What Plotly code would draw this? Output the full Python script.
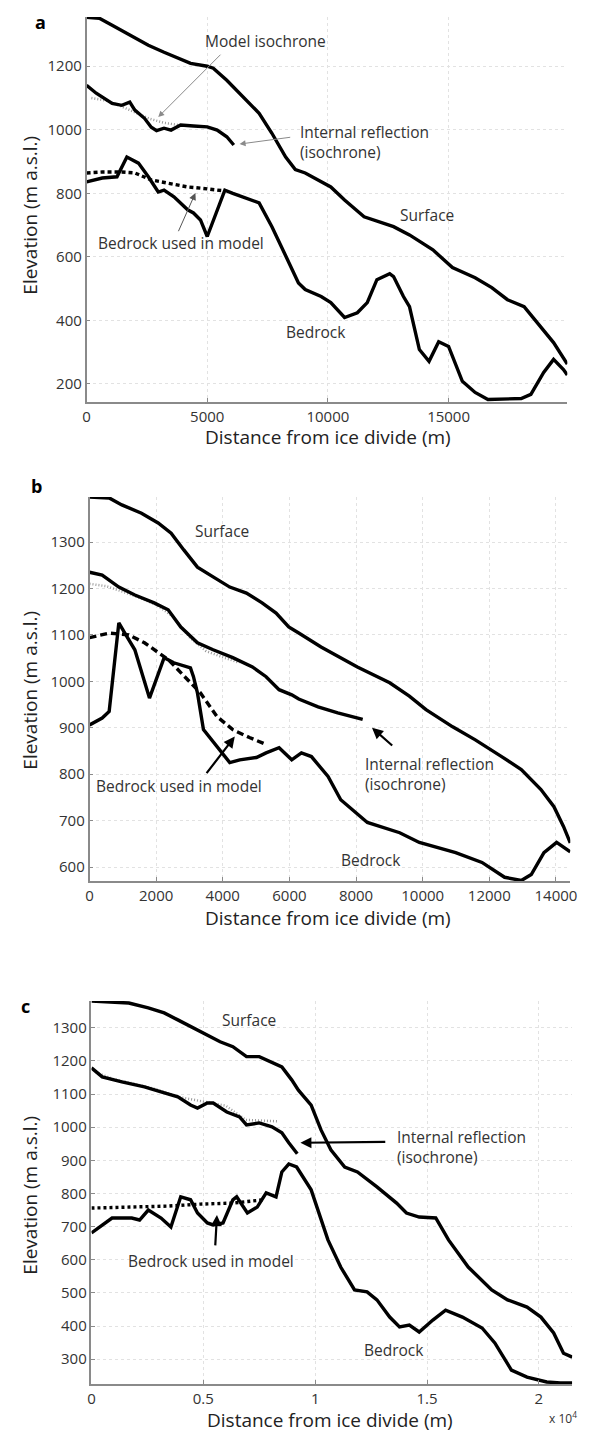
import plotly.graph_objects as go

W, H = 591, 1432
OFF = 8  # default page margin of the browser body
FW, FH = W - OFF, H - OFF
FONT = "Open Sans"

# ---------------- Panel a ----------------
a_surf_x = [0, 530, 1060, 1590, 2150, 2560, 3210, 3780, 4310, 5000, 5250, 5810, 6470, 7150, 7680, 8250, 8650,
            9060, 10120, 10690, 11500, 12720, 13380, 14350, 15160, 16100, 16790, 17440, 18130, 18820, 19350, 19920]
a_surf_y = [1354, 1351, 1329, 1307, 1282, 1266, 1244, 1225, 1209, 1200, 1194, 1156, 1103, 1052, 989, 914, 875,
            864, 820, 779, 726, 695, 669, 622, 566, 534, 503, 465, 443, 381, 330, 262]
a_bed_x = [0, 650, 1260, 1670, 2150, 2560, 2970, 3210, 3620, 4190, 4430, 4720, 5000, 5730, 6060, 6870, 7150, 7680,
           8250, 8780, 9060, 9720, 10120, 10690, 11220, 11630, 12030, 12560, 12720, 13130, 13380, 13790, 14190,
           14590, 15000, 15570, 16100, 16630, 18010, 18410, 18940, 19350, 19760, 19920]
a_bed_y = [836, 848, 852, 914, 895, 852, 804, 810, 789, 748, 738, 716, 664, 810, 800, 779, 770, 695,
           600, 518, 497, 475, 456, 409, 424, 456, 528, 547, 538, 475, 443, 308, 271,
           333, 318, 208, 173, 151, 154, 167, 236, 277, 245, 228]
a_iso_x = [0, 400, 1060, 1460, 1790, 2000, 2400, 2680, 2900, 3210, 3500, 3900, 4430, 5000, 5410, 5810, 6100]
a_iso_y = [1140, 1115, 1083, 1077, 1087, 1062, 1036, 1008, 997, 1005, 999, 1015, 1012, 1009, 999, 978, 952]
a_model_iso_x = [200, 800, 1400, 2000, 2600, 3200, 3800]
a_model_iso_y = [1100, 1092, 1075, 1055, 1035, 1022, 1015]
a_bed_model_x = [0, 650, 1460, 2000, 2680, 3370, 4190, 5000, 5650]
a_bed_model_y = [864, 867, 867, 864, 842, 833, 820, 814, 808]
a_xticks = [0, 5000, 10000, 15000]
a_xticklabels = ["0", "5000", "10000", "15000"]
a_yticks = [200, 400, 600, 800, 1000, 1200]

# ---------------- Panel b ----------------
b_surf_x = [0, 590, 970, 1560, 2060, 2450, 2830, 3240, 3710, 4210, 4710, 5180, 5600, 5980, 6280, 6950, 8040,
            9010, 9600, 10100, 10900, 11580, 12370, 12960, 13550, 13940, 14230, 14430]
b_surf_y = [1397, 1395, 1380, 1362, 1341, 1319, 1283, 1246, 1225, 1203, 1190, 1169, 1147, 1117, 1104, 1074, 1031,
            997, 968, 939, 902, 874, 838, 810, 767, 730, 687, 652]
b_iso_x = [0, 380, 880, 1360, 1940, 2360, 2740, 3240, 3710, 4300, 4890, 5300, 5690, 6070, 6280, 6860, 7450, 8200]
b_iso_y = [1235, 1229, 1203, 1186, 1169, 1154, 1117, 1083, 1068, 1051, 1031, 1010, 982, 971, 962, 945, 932, 918]
b_model_iso_x = [0, 500, 1000, 1500, 2000, 2500, 3000, 3500, 4000, 4500]
b_model_iso_y = [1210, 1205, 1193, 1180, 1165, 1140, 1095, 1065, 1052, 1040]
b_bed_x = [0, 380, 590, 880, 1060, 1360, 1800, 2240, 2530, 3030, 3120, 3240, 3420, 3830, 4210, 4510, 5010, 5300,
           5690, 6070, 6360, 6660, 7160, 7540, 8340, 9310, 9900, 10990, 11780, 12460, 12960, 13260, 13640,
           14020, 14430]
b_bed_y = [906, 921, 935, 1126, 1104, 1068, 964, 1051, 1040, 1029, 1010, 975, 896, 859, 825, 831, 836, 846,
           857, 831, 846, 838, 795, 745, 696, 674, 653, 631, 610, 578, 571, 584, 631,
           653, 633]
b_bed_model_x = [0, 590, 1180, 1650, 2360, 2950, 3330, 3830, 4300, 4800, 5300]
b_bed_model_y = [1094, 1104, 1100, 1083, 1047, 1003, 975, 924, 896, 879, 864]
b_xticks = [0, 2000, 4000, 6000, 8000, 10000, 12000, 14000]
b_xticklabels = ["0", "2000", "4000", "6000", "8000", "10000", "12000", "14000"]
b_yticks = [600, 700, 800, 900, 1000, 1100, 1200, 1300]

# ---------------- Panel c ----------------
c_surf_x = [0, 1670, 2540, 3250, 3860, 4560, 5180, 5750, 6320, 6930, 7500, 8070, 8510, 8950, 9250, 9820, 10260,
            10700, 11320, 11890, 12760, 13640, 14080, 14650, 15390, 15960, 16840, 17890, 18600, 19470, 20090,
            20660, 21100, 21490]
c_surf_y = [1381, 1375, 1360, 1345, 1324, 1300, 1279, 1258, 1243, 1213, 1213, 1197, 1182, 1143, 1112, 1067, 992,
            932, 880, 865, 820, 771, 741, 729, 726, 660, 578, 509, 479, 457, 427,
            379, 318, 306]
c_iso_x = [0, 480, 1360, 2370, 3110, 3860, 4430, 4740, 5180, 5440, 6050, 6620, 6930, 7500, 8070, 8510, 8820, 9200]
c_iso_y = [1179, 1152, 1137, 1122, 1107, 1092, 1067, 1058, 1073, 1073, 1046, 1031, 1007, 1013, 1001, 983, 953, 920]
c_model_iso_x = [200, 1000, 2000, 3000, 4000, 5000, 6000, 6900, 7600, 8300]
c_model_iso_y = [1165, 1145, 1130, 1112, 1090, 1078, 1065, 1022, 1020, 1018]
c_bed_x = [0, 480, 920, 1800, 2150, 2540, 3110, 3550, 3990, 4430, 4740, 5180, 5440, 5880, 6320, 6490, 6970, 7410,
           7630, 7810, 8250, 8510, 8820, 9170, 9820, 10260, 10570, 11140, 11760, 12320, 12760, 13330, 13770,
           14210, 14650, 15260, 15830, 16580, 17460, 18030, 18770, 19470, 20350, 20960, 21490]
c_bed_y = [681, 705, 726, 726, 720, 750, 726, 699, 790, 781, 741, 711, 705, 711, 781, 790, 741, 759,
           781, 802, 790, 865, 889, 880, 811, 720, 660, 578, 509, 503, 479, 427, 397,
           403, 382, 418, 448, 427, 394, 349, 267, 246, 231, 228, 228]
c_bed_model_x = [0, 1930, 3420, 4870, 6320, 7700]
c_bed_model_y = [756, 759, 762, 768, 771, 781]
c_xticks = [0, 5000, 10000, 15000, 20000]
c_xticklabels = ["0", "0.5", "1", "1.5", "2"]
c_yticks = [300, 400, 500, 600, 700, 800, 900, 1000, 1100, 1200, 1300]

fig = go.Figure()


def add_panel(n, surf, bed, iso, miso, bmodel, bdash):
    xa = "x" if n == 1 else f"x{n}"
    ya = "y" if n == 1 else f"y{n}"
    fig.add_trace(go.Scatter(x=miso[0], y=miso[1], mode="lines", xaxis=xa, yaxis=ya,
                             line=dict(color="#9a9a9a", width=2.5, dash="1px,2px")))
    for xs, ys in (surf, bed, iso):
        fig.add_trace(go.Scatter(x=xs, y=ys, mode="lines", xaxis=xa, yaxis=ya,
                                 line=dict(color="black", width=3.4)))
    fig.add_trace(go.Scatter(x=bmodel[0], y=bmodel[1], mode="lines", xaxis=xa, yaxis=ya,
                             line=dict(color="black", width=3.4, dash=bdash)))


add_panel(1, (a_surf_x, a_surf_y), (a_bed_x, a_bed_y), (a_iso_x, a_iso_y),
          (a_model_iso_x, a_model_iso_y), (a_bed_model_x, a_bed_model_y), "4px,3px")
add_panel(2, (b_surf_x, b_surf_y), (b_bed_x, b_bed_y), (b_iso_x, b_iso_y),
          (b_model_iso_x, b_model_iso_y), (b_bed_model_x, b_bed_model_y), "7px,4px")
add_panel(3, (c_surf_x, c_surf_y), (c_bed_x, c_bed_y), (c_iso_x, c_iso_y),
          (c_model_iso_x, c_model_iso_y), (c_bed_model_x, c_bed_model_y), "3px,3px")


def px(x):
    return (x - OFF) / FW


def py(y):
    return 1 - (y - OFF) / FH


axis_common = dict(showline=True, linecolor="#8a8a8a", linewidth=1.5, ticks="inside", ticklen=4,
                   tickcolor="#8a8a8a", showgrid=True, gridcolor="#e2e2e2", griddash="dot", gridwidth=1,
                   zeroline=False, tickfont=dict(family=FONT, size=15, color="#333"), mirror=False)

panels = [
    # (left, right, top, bottom px in page), xrange, yrange, xticks, xlabels, yticks
    ((84, 574, 17, 402), [0, 19920], [143, 1355], a_xticks, a_xticklabels, a_yticks),
    ((87, 577, 497, 881), [0, 14430], [570, 1397], b_xticks, b_xticklabels, b_yticks),
    ((89, 579, 1001, 1384), [0, 21490], [225, 1381], c_xticks, c_xticklabels, c_yticks),
]
layout_axes = {}
for i, (box, xr, yr, xt, xl, yt) in enumerate(panels, start=1):
    l, r, t, b = box
    xk = "xaxis" if i == 1 else f"xaxis{i}"
    yk = "yaxis" if i == 1 else f"yaxis{i}"
    ya = "y" if i == 1 else f"y{i}"
    xa = "x" if i == 1 else f"x{i}"
    layout_axes[xk] = dict(axis_common, domain=[px(l), px(r)], range=xr, tickvals=xt, ticktext=xl,
                           anchor=ya)
    layout_axes[yk] = dict(axis_common, domain=[py(b), py(t)], range=yr, tickvals=yt, anchor=xa)

fig.update_layout(**layout_axes)

ann = []


def text(x, y, s, size=15.5, xanchor="center", align="center", color="#333"):
    ann.append(dict(x=px(x), y=py(y), xref="paper", yref="paper", text=s, showarrow=False,
                    xanchor=xanchor, yanchor="middle", align=align,
                    font=dict(family=FONT, size=size, color=color)))


def arrow(n, tail, tip, color, width, head=2, size=1.0):
    xa = "x" if n == 1 else f"x{n}"
    ya = "y" if n == 1 else f"y{n}"
    ann.append(dict(x=tip[0], y=tip[1], ax=tail[0], ay=tail[1], xref=xa, yref=ya, axref=xa, ayref=ya,
                    text="", showarrow=True, arrowhead=head, arrowsize=size, arrowwidth=width,
                    arrowcolor=color))


# panel letters
text(37, 22, "<b>a</b>", size=18, color="black")
text(33, 486, "<b>b</b>", size=18, color="black")
text(22, 1006, "<b>c</b>", size=18, color="black")

# axis titles
for cy, cx in ((437, 330), (918, 330), (1420, 332)):
    text(cx, cy, "Distance from ice divide (m)", size=19, color="#222")
for cy in (215, 690, 1195):
    ann.append(dict(x=px(26), y=py(cy), xref="paper", yref="paper", text="Elevation (m a.s.l.)",
                    showarrow=False, textangle=-90, xanchor="center", yanchor="middle",
                    font=dict(family=FONT, size=19, color="#222")))
text(570, 1418, "x 10<sup>4</sup>", size=12)

# panel a labels
text(266, 41, "Model isochrone")
text(300, 142, "Internal reflection<br>(isochrone)", xanchor="left", align="left")
text(431, 215, "Surface")
text(180, 243, "Bedrock used in model")
text(318, 332, "Bedrock")
arrow(1, (5610, 1241), (2970, 1040), "#8a8a8a", 1.0, head=2, size=1.2)
arrow(1, (8500, 977), (6340, 955), "#8a8a8a", 1.0, head=2, size=1.2)
arrow(1, (3780, 676), (4510, 801), "#555", 1.0, head=2, size=1.4)

# panel b labels
text(222, 531, "Surface")
text(366, 774, "Internal reflection<br>(isochrone)", xanchor="left", align="left")
text(178, 786, "Bedrock used in model")
text(374, 860, "Bedrock")
arrow(2, (9130, 859), (8480, 900), "black", 2.2, head=2, size=1.0)
arrow(2, (3480, 799), (4360, 881), "black", 2.2, head=2, size=1.0)

# panel c labels
text(250, 1020, "Surface")
text(398, 1147, "Internal reflection<br>(isochrone)", xanchor="left", align="left")
text(211, 1261, "Bedrock used in model")
text(397, 1350, "Bedrock")
arrow(3, (13200, 956), (9340, 953), "black", 2.2, head=2, size=1.0)
arrow(3, (5530, 639), (5610, 735), "black", 2.2, head=2, size=1.0)

fig.update_layout(annotations=ann, width=FW, height=FH, margin=dict(l=0, r=0, t=0, b=0),
                  paper_bgcolor="white", plot_bgcolor="white", showlegend=False)

fig.write_html("out.html")
